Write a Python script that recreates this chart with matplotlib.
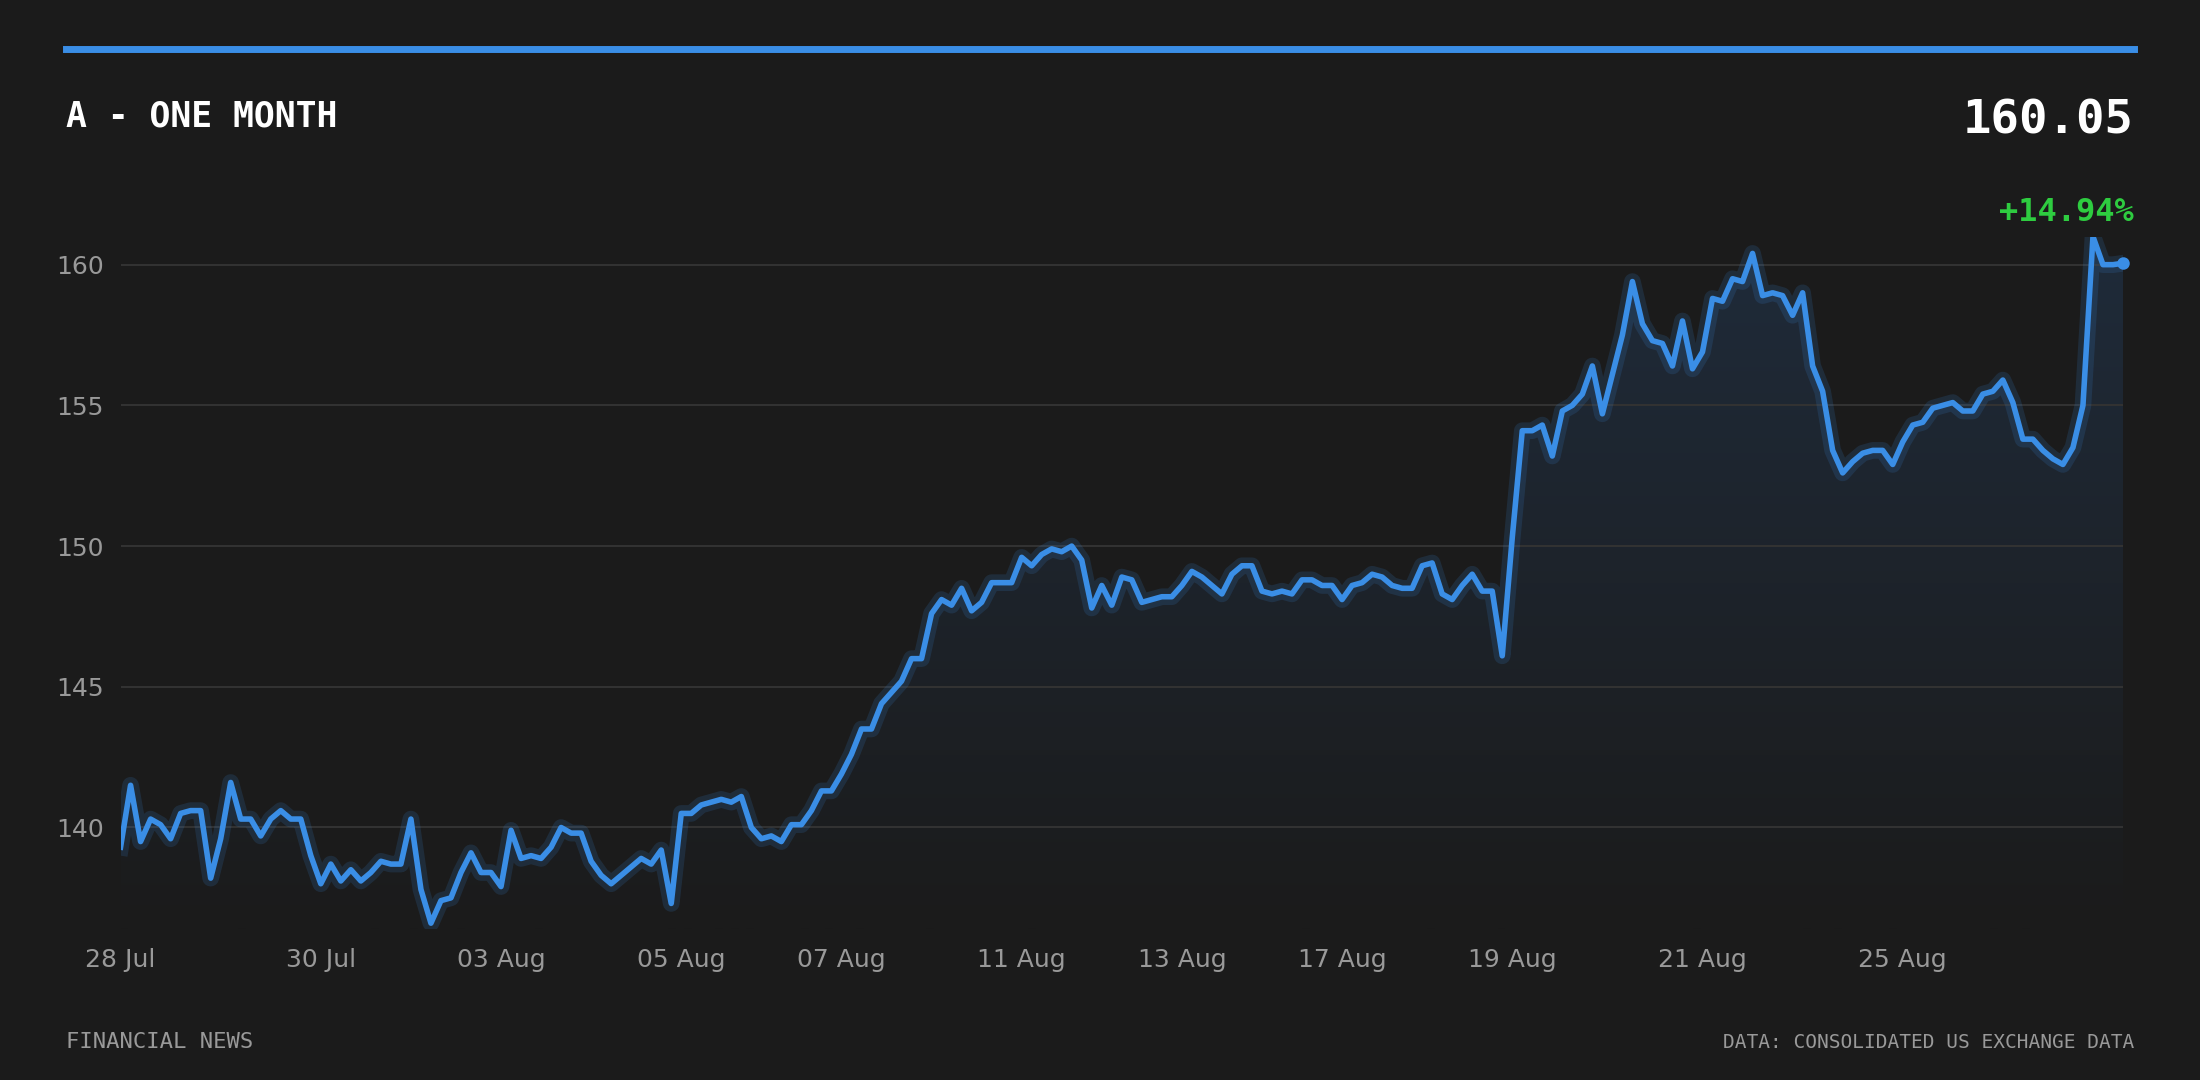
import matplotlib
matplotlib.use("Agg")
import matplotlib.pyplot as plt
import numpy as np
from matplotlib.patches import Polygon

prices = [139.3,141.5,139.5,140.3,140.1,139.6,140.5,140.6,140.6,138.2,139.6,141.6,140.3,140.3,139.7,140.3,140.6,140.3,140.3,139.0,
          138.0,138.7,138.1,138.5,138.1,138.4,138.8,138.7,138.7,140.3,137.8,136.6,137.4,137.5,138.4,139.1,138.4,138.4,137.9,139.9,
          138.9,139.0,138.9,139.3,140.0,139.8,139.8,138.8,138.3,138.0,138.3,138.6,138.9,138.7,139.2,137.3,140.5,140.5,140.8,140.9,
          141.0,140.9,141.1,140.0,139.6,139.7,139.5,140.1,140.1,140.6,141.3,141.3,141.9,142.6,143.5,143.5,144.4,144.8,145.2,146.0,
          146.0,147.6,148.1,147.9,148.5,147.7,148.0,148.7,148.7,148.7,149.6,149.3,149.7,149.9,149.8,150.0,149.5,147.8,148.6,147.9,
          148.9,148.8,148.0,148.1,148.2,148.2,148.6,149.1,148.9,148.6,148.3,149.0,149.3,149.3,148.4,148.3,148.4,148.3,148.8,148.8,
          148.6,148.6,148.1,148.6,148.7,149.0,148.9,148.6,148.5,148.5,149.3,149.4,148.3,148.1,148.6,149.0,148.4,148.4,146.1,150.3,
          154.1,154.1,154.3,153.2,154.8,155.0,155.4,156.4,154.7,156.1,157.5,159.4,157.9,157.3,157.2,156.4,158.0,156.3,156.9,158.8,
          158.7,159.5,159.4,160.4,158.9,159.0,158.9,158.2,159.0,156.4,155.5,153.4,152.6,153.0,153.3,153.4,153.4,152.9,153.7,154.3,
          154.4,154.9,155.0,155.1,154.8,154.8,155.4,155.5,155.9,155.1,153.8,153.8,153.4,153.1,152.9,153.5,155.0,161.0,160.0,160.0,160.05]
tick_labels = ["28 Jul","30 Jul","03 Aug","05 Aug","07 Aug","11 Aug","13 Aug","17 Aug","19 Aug","21 Aug","25 Aug"]
tick_frac = [0.0,0.10,0.19,0.28,0.36,0.449,0.529,0.609,0.695,0.79,0.89]
yticks = [140,145,150,155,160]
title = "A - ONE MONTH"
last_price = "160.05"
change = "+14.94%"

BG = "#1b1b1b"
BLUE = "#3a8ee6"
fig = plt.figure(figsize=(11, 5.4), dpi=200, facecolor=BG)
ax = fig.add_axes([0.0548, 0.140, 0.965-0.0548, 0.781-0.140], facecolor=BG)
n = len(prices)
x = np.arange(n)
ymin, ymax = 136.4, 161.0
ax.set_xlim(0, n-1)
ax.set_ylim(ymin, ymax)

# gradient fill
grad = np.linspace(0, 1, 256).reshape(-1, 1)
from matplotlib.colors import LinearSegmentedColormap
cmap = LinearSegmentedColormap.from_list("g", [BG, "#1f2b3a"])
im = ax.imshow(grad, extent=[0, n-1, ymin, ymax], origin="lower", aspect="auto", cmap=cmap, zorder=1)
poly = Polygon(np.column_stack([np.r_[x, n-1, 0], np.r_[prices, ymin, ymin]]), closed=True, transform=ax.transData, facecolor="none", edgecolor="none")
ax.add_patch(poly)
im.set_clip_path(poly)

for yt in yticks:
    ax.axhline(yt, color="#333333", lw=0.7, zorder=2)
ax.plot(x, prices, color=BLUE, lw=6, alpha=0.15, zorder=3, solid_joinstyle="round")
ax.plot(x, prices, color=BLUE, lw=2, zorder=4, solid_joinstyle="round")
ax.plot([x[-1]], [prices[-1]], "o", color=BLUE, ms=3.5, zorder=5, clip_on=False)

for s in ax.spines.values():
    s.set_visible(False)
ax.set_yticks(yticks)
ax.set_yticklabels([str(v) for v in yticks])
ax.set_xticks([round(f*(n-1)) for f in tick_frac])
ax.set_xticklabels(tick_labels)
ax.tick_params(length=0, colors="#999999", labelsize=9)
ax.tick_params(axis="y", pad=6)
ax.tick_params(axis="x", pad=7)

fig.add_artist(plt.Line2D([0.030, 0.970], [0.955, 0.955], color=BLUE, lw=2.5))
fig.text(0.030, 0.892, title, color="white", fontsize=12.5, fontweight="bold", family="DejaVu Sans Mono", va="center")
fig.text(0.970, 0.888, last_price, color="white", fontsize=17, fontweight="bold", family="DejaVu Sans Mono", va="center", ha="right")
fig.text(0.970, 0.803, change, color="#2ecc40", fontsize=11.5, fontweight="bold", family="DejaVu Sans Mono", va="center", ha="right")
fig.text(0.030, 0.035, "FINANCIAL NEWS", color="#999999", fontsize=8, family="DejaVu Sans Mono", va="center")
fig.text(0.970, 0.035, "DATA: CONSOLIDATED US EXCHANGE DATA", color="#999999", fontsize=7, family="DejaVu Sans Mono", va="center", ha="right")
fig.savefig("out.png", dpi=200, facecolor=BG)
